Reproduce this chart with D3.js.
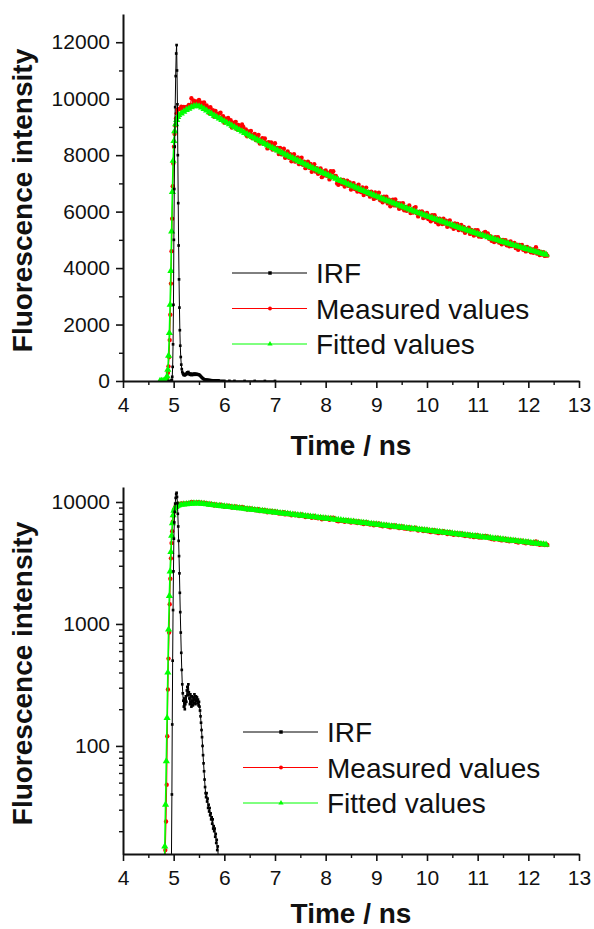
<!DOCTYPE html>
<html>
<head>
<meta charset="utf-8">
<script src="https://cdn.jsdelivr.net/npm/d3@7/dist/d3.min.js"></script>
<style>
  body { margin: 0; background: #fff; }
  svg { display: block; }
</style>
</head>
<body>
<div id="chart"></div>
<script>
// ---- data (time in ns, intensity in counts) ----

// instrument response function
var irfTime = [4.90, 4.94, 4.955, 4.965, 4.972, 4.98, 4.988, 4.996, 5.004, 5.012, 5.02, 5.03, 5.04, 5.05, 5.058,
  5.066, 5.074, 5.082, 5.09, 5.098, 5.106, 5.114, 5.122, 5.13, 5.14, 5.15, 5.16, 5.17, 5.18,
  5.19, 5.20, 5.21, 5.22, 5.23, 5.24, 5.25, 5.26, 5.27, 5.28, 5.29, 5.30, 5.31, 5.32, 5.33, 5.34, 5.35, 5.36,
  5.37, 5.38, 5.39, 5.40, 5.41, 5.42, 5.43, 5.44, 5.45, 5.46, 5.47, 5.48, 5.49, 5.50, 5.51, 5.52, 5.53, 5.54, 5.55,
  5.56, 5.57, 5.58, 5.59, 5.60, 5.61, 5.62, 5.63, 5.64, 5.65, 5.66, 5.67, 5.68, 5.69, 5.70, 5.71, 5.72, 5.73,
  5.74, 5.75, 5.76, 5.77, 5.78, 5.79, 5.80, 5.81, 5.82, 5.83, 5.84, 5.85, 5.86, 5.87, 5.88, 5.89, 5.90,
  5.95, 6.0, 6.1, 6.2, 6.4, 6.6, 6.8, 7.0];
var irfValue = [1, 3, 10, 40, 150, 500, 1300, 2700, 5000, 6800, 8300, 9700, 10800, 11600, 11900,
  11000, 9800, 8000, 6300, 4800, 3600, 2600, 1800, 1250, 850, 580, 420, 320, 270,
  235, 210, 245, 200, 220, 255, 230, 285, 305, 260, 320, 275, 245, 220, 265, 230, 210, 255,
  235, 215, 250, 225, 265, 240, 220, 255, 235, 250, 225, 240, 215, 230, 210, 195, 175, 155, 135,
  118, 100, 84, 72, 62, 53, 46, 41, 38, 41, 35, 37, 31, 33, 29, 31, 27, 28,
  25, 26, 23, 25, 21, 22, 20, 21, 18, 19, 16, 17, 14, 15, 12, 11, 9,
  7, 6, 5, 4, 3, 3, 2, 2];

// measured decay: rising edge, then channels every 0.025 ns from 5.1 ns
var measRiseTime = [4.80, 4.82, 4.835, 4.849, 4.862, 4.874, 4.886, 4.898, 4.91, 4.922, 4.934,
  4.946, 4.958, 4.97, 4.982, 4.994, 5.006, 5.018, 5.03, 5.045, 5.06, 5.075];
var measRiseValue = [2, 6, 14, 24, 48, 120, 290, 520, 850, 1450, 2350,
  3450, 4600, 5750, 6900, 7700, 8300, 8750, 9050, 9300, 9480, 9600];
var measStart = 5.1, measStep = 0.025;
var measValue = [
  9640, 9630, 9720, 9660, 9710, 9630, 9710, 9715, 9780, 9735, 10020, 9800, 9925, 9785, 9900, 9850, 9960, 9770, 9860, 9755,
  9870, 9650, 9760, 9670, 9490, 9700, 9550, 9590, 9360, 9570, 9420, 9470, 9310, 9500, 9310, 9380, 9150, 9290, 9230, 9320,
  9140, 9240, 8980, 9150, 9080, 9180, 8920, 9070, 8950, 8980, 9090, 9000, 8820, 8910, 8670, 8840, 8750, 8860, 8610, 8720,
  8750, 8530, 8660, 8720, 8410, 8550, 8600, 8400, 8590, 8440, 8240, 8460, 8350, 8450, 8200, 8340, 8420, 8170, 8260, 8040,
  8260, 8030, 8130, 8230, 7910, 8040, 8130, 7910, 8030, 7780, 7960, 8030, 7770, 7870, 7920, 7680, 7780, 7910, 7660, 7770,
  7540, 7700, 7770, 7550, 7690, 7410, 7570, 7680, 7420, 7540, 7340, 7460, 7530, 7220, 7420, 7290, 7460, 7270, 7370, 7140,
  7430, 7380, 7430, 7250, 7260, 7000, 6950, 7000, 7130, 6980, 7120, 6890, 7030, 7100, 6910, 7030, 6780, 6950, 7010, 6800,
  6910, 6710, 6950, 6810, 6690, 6860, 6590, 6760, 6850, 6620, 6700, 6530, 6710, 6610, 6450, 6680, 6490, 6600, 6670, 6400,
  6500, 6330, 6530, 6380, 6530, 6290, 6420, 6190, 6350, 6420, 6220, 6430, 6220, 6300, 6100, 6290, 6130, 6300, 6050, 6170,
  6030, 6170, 6220, 5950, 6070, 5970, 6130, 6160, 5940, 5830, 6000, 5910, 6010, 5770, 5930, 5800, 5950, 5740, 5830, 5660,
  5870, 5710, 5870, 5630, 5750, 5550, 5750, 5670, 5560, 5750, 5580, 5680, 5460, 5620, 5690, 5470, 5540, 5390, 5580, 5430,
  5560, 5350, 5460, 5530, 5340, 5460, 5250, 5390, 5310, 5430, 5210, 5350, 5290, 5150, 5340, 5190, 5340, 5120, 5220, 5110,
  5220, 5250, 5280, 5200, 5230, 5040, 5130, 4970, 5060, 4920, 5090, 4960, 5090, 4900, 4990, 4840, 5000, 4880, 4990, 4810,
  4910, 4770, 4940, 4780, 4840, 4890, 4710, 4830, 4650, 4820, 4710, 4820, 4650, 4730, 4590, 4750, 4620, 4700, 4560, 4660,
  4540, 4660, 4740, 4510, 4610, 4460, 4570, 4480, 4560, 4430, 4500, 4440];

// fitted curve: rising edge, then every 0.05 ns from 5.1 ns
var fitRiseTime = [4.73, 4.76, 4.79, 4.81, 4.825, 4.84, 4.855, 4.87, 4.885, 4.90, 4.915,
  4.93, 4.945, 4.96, 4.975, 4.99, 5.005, 5.02, 5.04, 5.06, 5.08];
var fitRiseValue = [1, 1, 2, 5, 15, 33, 75, 170, 400, 900, 1700,
  2700, 3900, 5300, 6700, 7800, 8500, 8850, 9100, 9250, 9350];
var fitStart = 5.1, fitStep = 0.05;
var fitValue = [
  9420, 9480, 9540, 9600, 9650, 9700, 9735, 9750, 9730, 9690,
  9640, 9580, 9520, 9460, 9400, 9350, 9300, 9250, 9200, 9148,
  9096, 9044, 8993, 8942, 8891, 8841, 8791, 8741, 8692, 8643,
  8594, 8545, 8497, 8449, 8401, 8353, 8306, 8259, 8212, 8166,
  8119, 8073, 8028, 7982, 7937, 7892, 7848, 7803, 7759, 7715,
  7672, 7628, 7585, 7542, 7500, 7457, 7415, 7373, 7331, 7290,
  7249, 7208, 7167, 7126, 7086, 7046, 7006, 6966, 6927, 6888,
  6849, 6810, 6771, 6733, 6695, 6657, 6619, 6582, 6544, 6507,
  6470, 6434, 6397, 6361, 6325, 6289, 6254, 6218, 6183, 6148,
  6113, 6079, 6044, 6010, 5976, 5942, 5909, 5875, 5842, 5809,
  5776, 5743, 5711, 5678, 5646, 5614, 5583, 5551, 5520, 5488,
  5457, 5426, 5396, 5365, 5335, 5305, 5275, 5245, 5215, 5186,
  5156, 5127, 5098, 5069, 5041, 5012, 4984, 4956, 4928, 4900,
  4872, 4844, 4817, 4790, 4763, 4736, 4709, 4682, 4656, 4629,
  4603, 4577, 4551, 4525, 4500, 4474];

var xTicks = [4, 5, 6, 7, 8, 9, 10, 11, 12, 13];
var xMinorTicks = [4.5, 5.5, 6.5, 7.5, 8.5, 9.5, 10.5, 11.5, 12.5];
var linTicks = [0, 2000, 4000, 6000, 8000, 10000, 12000];
var linMinorTicks = [1000, 3000, 5000, 7000, 9000, 11000];
var logTicks = [100, 1000, 10000];
var logMinorTicks = [20, 30, 40, 50, 60, 70, 80, 90, 200, 300, 400, 500, 600, 700, 800, 900,
  2000, 3000, 4000, 5000, 6000, 7000, 8000, 9000];
var seriesNames = ["IRF", "Measured values", "Fitted values"];

// ---- build point lists ----
var irf = irfTime.map(function(t, i) { return {t: t, v: irfValue[i]}; });
var measured = measRiseTime.map(function(t, i) { return {t: t, v: measRiseValue[i]}; })
  .concat(measValue.map(function(v, i) { return {t: measStart + i * measStep, v: v}; }));
var fitted = fitRiseTime.map(function(t, i) { return {t: t, v: fitRiseValue[i]}; })
  .concat(fitValue.map(function(v, i) { return {t: fitStart + i * fitStep, v: v}; }));

var series = [
  {name: seriesNames[1], data: measured, color: "#ff0000", marker: "circle", size: 15, width: 1},
  {name: seriesNames[2], data: fitted, color: "#00ff00", marker: "triangle", size: 22, width: 1.6},
  {name: seriesNames[0], data: irf, color: "#000000", marker: "square", size: 7, width: 1}
];

var FONT = "'Liberation Sans', Arial, Helvetica, sans-serif";
var W = 594, H = 929;

var svg = d3.select("#chart").append("svg").attr("width", W).attr("height", H)
  .style("font-family", FONT);

var markerPath = function(kind, size) {
  if (kind === "triangle") return d3.symbol().type(d3.symbolTriangle).size(size)();
  if (kind === "square") return d3.symbol().type(d3.symbolSquare).size(size)();
  return d3.symbol().type(d3.symbolCircle).size(size)();
};

var styleAxis = function(g, strokeW) {
  g.attr("font-family", FONT).attr("font-size", 21);
  g.select(".domain").attr("stroke", "#111").attr("stroke-width", 2);
  g.selectAll(".tick line").attr("stroke", "#111").attr("stroke-width", strokeW);
  g.selectAll(".tick text").attr("fill", "#111");
};

var drawPanel = function(cfg, idx) {
  var x = d3.scaleLinear().domain([4, 13]).range([123, 579]);
  var y = cfg.log
    ? d3.scaleLog().domain([13, 13270]).range([cfg.bottom, cfg.top])
    : d3.scaleLinear().domain([0, 13000]).range([cfg.bottom, cfg.top]);

  var g = svg.append("g").attr("class", "panel");

  svg.append("clipPath").attr("id", "clip" + idx).append("rect")
    .attr("x", 123).attr("y", cfg.top - 10).attr("width", 456).attr("height", cfg.bottom - cfg.top + 10);

  var plot = g.append("g").attr("clip-path", "url(#clip" + idx + ")");
  var line = d3.line().x(function(d) { return x(d.t); }).y(function(d) { return y(d.v); });

  series.forEach(function(s) {
    plot.append("path").datum(s.data)
      .attr("fill", "none").attr("stroke", s.color).attr("stroke-width", s.width)
      .attr("d", line);
    plot.append("g").selectAll("path").data(s.data).enter().append("path")
      .attr("d", markerPath(s.marker, s.size))
      .attr("fill", s.color)
      .attr("transform", function(d) { return "translate(" + x(d.t) + "," + y(d.v) + ")"; });
  });

  // axes
  var xa = g.append("g").attr("transform", "translate(0," + cfg.bottom + ")")
    .call(d3.axisBottom(x).tickValues(xTicks).tickSize(7).tickSizeOuter(0).tickPadding(9).tickFormat(d3.format("d")));
  styleAxis(xa, 1.6);
  var xm = g.append("g").attr("transform", "translate(0," + cfg.bottom + ")")
    .call(d3.axisBottom(x).tickValues(xMinorTicks).tickSize(4).tickFormat(""));
  xm.select(".domain").remove();
  xm.selectAll(".tick line").attr("stroke", "#111").attr("stroke-width", 1.4);

  var ya = g.append("g").attr("transform", "translate(123,0)")
    .call(d3.axisLeft(y).tickValues(cfg.log ? logTicks : linTicks).tickSize(7).tickSizeOuter(0).tickPadding(6).tickFormat(d3.format("d")));
  styleAxis(ya, 1.6);
  var ym = g.append("g").attr("transform", "translate(123,0)")
    .call(d3.axisLeft(y).tickValues(cfg.log ? logMinorTicks : linMinorTicks).tickSize(4).tickFormat(""));
  ym.select(".domain").remove();
  ym.selectAll(".tick line").attr("stroke", "#111").attr("stroke-width", 1.4);

  // axis titles
  g.append("text")
    .attr("transform", "translate(32," + ((cfg.top + cfg.bottom) / 2 + 3) + ") rotate(-90)")
    .attr("text-anchor", "middle").attr("font-size", 28).attr("font-weight", "bold").attr("fill", "#111")
    .text("Fluorescence intensity");
  g.append("text")
    .attr("x", 351).attr("y", cfg.titleY)
    .attr("text-anchor", "middle").attr("font-size", 28).attr("font-weight", "bold").attr("fill", "#111")
    .text("Time / ns");

  // legend
  var legendOrder = [series[2], series[0], series[1]];
  var lg = g.append("g").attr("transform", "translate(" + cfg.legendX + "," + cfg.legendY + ")");
  legendOrder.forEach(function(s, i) {
    var row = lg.append("g").attr("transform", "translate(0," + (i * 35.5) + ")");
    row.append("line").attr("x1", 0).attr("x2", 75).attr("y1", 0).attr("y2", 0)
      .attr("stroke", s.color).attr("stroke-width", 1);
    row.append("path").attr("d", markerPath(s.marker, 12)).attr("fill", s.color)
      .attr("transform", "translate(38,0)");
    row.append("text").attr("x", 84).attr("y", 10).attr("font-size", 28).attr("fill", "#111")
      .text(s.name);
  });
};

drawPanel({log: false, top: 14, bottom: 381, titleY: 455, legendX: 232, legendY: 273}, 0);
drawPanel({log: true, top: 487, bottom: 854, titleY: 923, legendX: 243, legendY: 732}, 1);
</script>
</body>
</html>
